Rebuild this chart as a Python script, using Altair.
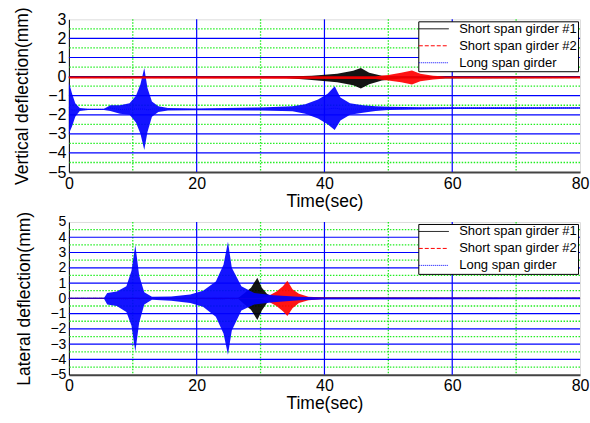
import altair as alt
import pandas as pd

S1 = "Short span girder #1"
S2 = "Short span girder #2"
LG = "Long span girder"

# ---------------- Vertical deflection (top panel): envelopes of the oscillations
v_blue_t  = [0, 0.5, 1, 1.7, 3, 5.5, 6.5, 8, 9.5, 10.5, 11.2, 11.8, 12.3, 13, 14, 15.5, 20, 30, 35, 37, 39, 40.5, 41.6, 42.5, 44, 46, 48, 50, 55, 60, 80]
v_blue_hi = [-0.3, -0.9, -1.4, -1.65, -1.68, -1.68, -1.5, -1.5, -1.4, -1.0, -0.4, 0.45, -0.6, -1.3, -1.55, -1.65, -1.67, -1.62, -1.55, -1.45, -1.2, -0.9, -0.5, -1.1, -1.4, -1.5, -1.55, -1.58, -1.6, -1.6, -1.6]
v_blue_lo = [-3.0, -2.6, -2.1, -1.8, -1.75, -1.75, -1.8, -1.95, -2.0, -2.4, -3.0, -3.85, -2.9, -2.1, -1.85, -1.78, -1.76, -1.78, -1.82, -1.95, -2.2, -2.5, -2.8, -2.3, -2.0, -1.9, -1.8, -1.75, -1.72, -1.7, -1.68]

v_black_t  = [0, 34, 38, 42, 44.5, 45.7, 47, 49, 52, 80]
v_black_hi = [0.0, 0.0, 0.05, 0.15, 0.3, 0.45, 0.2, 0.05, 0.0, 0.0]
v_black_lo = [-0.06, -0.08, -0.18, -0.3, -0.45, -0.62, -0.4, -0.2, -0.1, -0.07]

v_red_t  = [0, 48, 50, 52, 53.7, 55, 57, 59, 80]
v_red_hi = [0.0, 0.02, 0.08, 0.2, 0.32, 0.15, 0.05, 0.0, 0.0]
v_red_lo = [-0.1, -0.12, -0.2, -0.3, -0.42, -0.25, -0.15, -0.1, -0.1]

# ---------------- Lateral deflection (bottom panel)
l_blue_t  = [0, 5.5, 6, 7.5, 9, 9.8, 10.4, 11, 11.8, 13, 16, 19, 21, 23, 24.2, 24.9, 25.5, 27, 29, 32, 36, 40, 80]
l_blue_hi = [0.03, 0.03, 0.35, 0.45, 0.8, 1.8, 3.5, 1.5, 0.4, 0.1, 0.12, 0.25, 0.5, 1.1, 2.2, 3.7, 2.0, 0.8, 0.35, 0.2, 0.1, 0.06, 0.05]
l_blue_lo = [-0.03, -0.03, -0.4, -0.5, -0.9, -1.8, -3.5, -1.6, -0.4, -0.1, -0.15, -0.3, -0.55, -1.2, -2.3, -3.7, -2.1, -0.8, -0.4, -0.25, -0.12, -0.08, -0.06]

l_black_t  = [0, 26.5, 27.5, 28.5, 29.5, 30.2, 31, 32, 80]
l_black_hi = [0.02, 0.02, 0.35, 0.7, 1.35, 0.7, 0.3, 0.05, 0.02]
l_black_lo = [-0.02, -0.02, -0.4, -0.75, -1.42, -0.8, -0.3, -0.05, -0.02]

l_red_t  = [0, 30, 31, 32.5, 33.5, 34.2, 35, 36, 37.5, 40, 80]
l_red_hi = [0.03, 0.03, 0.1, 0.45, 0.8, 1.15, 0.6, 0.3, 0.1, 0.05, 0.04]
l_red_lo = [-0.03, -0.03, -0.15, -0.5, -0.85, -1.16, -0.65, -0.3, -0.12, -0.05, -0.04]

# ---------------- axes / grid values
x_ticks = [0, 20, 40, 60, 80]
x_major = [20, 40, 60]
x_minor = [10, 30, 50, 70]
v_ticks = [-5, -4, -3, -2, -1, 0, 1, 2, 3]
v_minor = [-4.5, -3.5, -2.5, -1.5, -0.5, 0.5, 1.5, 2.5]
l_ticks = [-5, -4, -3, -2, -1, 0, 1, 2, 3, 4, 5]
l_minor = [-4.5, -3.5, -2.5, -1.5, -0.5, 0.5, 1.5, 2.5, 3.5, 4.5]

SERIES = [S1, S2, LG]
COLORS = ["#000000", "#ff0000", "#0000ff"]
DASHES = [[1, 0], [4, 2], [1, 1]]
FONT = "Liberation Sans"
GREEN = "#22ee22"


def band(t, hi, lo, name):
    return pd.DataFrame({"t": t, "hi": hi, "lo": lo,
                         "mid": [(a + b) / 2 for a, b in zip(hi, lo)],
                         "series": name})


def panel(bands, order, yticks, yminor, ytitle, ylabel_size):
    xs = alt.Scale(domain=[0, 80], nice=False, zero=False)
    ys = alt.Scale(domain=[yticks[0], yticks[-1]], nice=False, zero=False)
    xaxis = alt.Axis(values=x_ticks, title="Time(sec)", grid=False, ticks=False,
                     labelFontSize=16, titleFontSize=17.5, labelPadding=3,
                     titlePadding=1, labelFont=FONT, titleFont=FONT,
                     titleFontWeight="normal", domainColor="#444", domainWidth=2,
                     labelOverlap=False,
                     labelColor="black", titleColor="black", labelFlush=False)
    yaxis = alt.Axis(values=yticks, title=ytitle, grid=False, ticks=False,
                     labelFontSize=ylabel_size, titleFontSize=17.5, labelPadding=3,
                     titlePadding=16, labelFont=FONT, titleFont=FONT,
                     titleFontWeight="normal", domainColor="black",
                     labelOverlap=False, labelFlush=False,
                     labelColor="black", titleColor="black", format="d")
    X = lambda f: alt.X(f, scale=xs, axis=xaxis, title="Time(sec)")
    Y = lambda f: alt.Y(f, scale=ys, axis=yaxis, title=ytitle)

    gx_min = alt.Chart(pd.DataFrame({"v": x_minor})).mark_rule(
        color=GREEN, strokeDash=[1.5, 1.5], strokeWidth=1.3).encode(x=X("v:Q"))
    gx_maj = alt.Chart(pd.DataFrame({"v": x_major})).mark_rule(
        color="#0000ff", strokeWidth=1.2).encode(x=X("v:Q"))
    gy_min = alt.Chart(pd.DataFrame({"v": yminor})).mark_rule(
        color=GREEN, strokeDash=[1.5, 1.5], strokeWidth=1.3).encode(y=Y("v:Q"))
    gy_maj = alt.Chart(pd.DataFrame({"v": yticks[1:-1]})).mark_rule(
        color="#0000ff", strokeWidth=1.2).encode(y=Y("v:Q"))

    allb = pd.concat(bands, ignore_index=True)
    legend_line = alt.Chart(allb).mark_line(strokeWidth=1).encode(
        x=X("t:Q"),
        y=Y("mid:Q"),
        color=alt.Color("series:N", scale=alt.Scale(domain=SERIES, range=COLORS),
                        legend=alt.Legend(title=None, orient="top-right", offset=2,
                                          fillColor="white", strokeColor="black",
                                          padding=1, labelFontSize=13, labelFont=FONT,
                                          labelColor="black", symbolType="M-3,0L3,0",
                                          symbolSize=100, symbolStrokeWidth=1,
                                          symbolOffset=8, rowPadding=3, labelOffset=19)),
        strokeDash=alt.StrokeDash("series:N", scale=alt.Scale(domain=SERIES, range=DASHES),
                                  legend=alt.Legend(title=None, orient="top-right")),
        detail="series:N",
    )

    areas = []
    for b in order:
        name = b["series"].iloc[0]
        col = COLORS[SERIES.index(name)]
        areas.append(alt.Chart(b).mark_area(color=col, opacity=0.92, interpolate="linear").encode(
            x=X("t:Q"), y=Y("hi:Q"), y2="lo:Q"))

    return alt.layer(legend_line, gx_min, gy_min, gx_maj, gy_maj, *areas).properties(
        width=512, height=153)


vb = band(v_blue_t, v_blue_hi, v_blue_lo, LG)
vk = band(v_black_t, v_black_hi, v_black_lo, S1)
vr = band(v_red_t, v_red_hi, v_red_lo, S2)
lb = band(l_blue_t, l_blue_hi, l_blue_lo, LG)
lk = band(l_black_t, l_black_hi, l_black_lo, S1)
lr = band(l_red_t, l_red_hi, l_red_lo, S2)

top = panel([vk, vr, vb], [vb, vk, vr], v_ticks, v_minor, "Vertical deflection(mm)", 16)
bot = panel([lk, lr, lb], [lk, lr, lb], l_ticks, l_minor, "Lateral deflection(mm)", 14)

chart = alt.vconcat(top, bot, spacing=0).resolve_scale(
    color="independent", strokeDash="independent"
).resolve_legend(color="independent", strokeDash="independent").properties(
    padding={"left": 13, "top": 6, "right": 0, "bottom": 0}
).configure_view(stroke="black", strokeWidth=1).configure(background="white")

chart.save("out.html", embed_options={"renderer": "svg", "actions": False})
